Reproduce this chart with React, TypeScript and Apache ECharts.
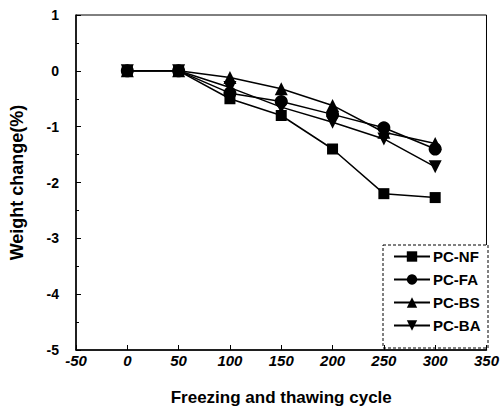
import React, { useEffect, useRef } from "react";
import * as echarts from "echarts";

const cycles = [0, 50, 100, 150, 200, 250, 300];
const seriesNames = ["PC-NF", "PC-FA", "PC-BS", "PC-BA"];
const pcNF = [0, 0, -0.5, -0.8, -1.4, -2.2, -2.27];
const pcFA = [0, 0, -0.4, -0.55, -0.78, -1.02, -1.4];
const pcBS = [0, 0, -0.12, -0.32, -0.62, -1.1, -1.3];
const pcBA = [0, 0, -0.3, -0.65, -0.92, -1.22, -1.72];
const symbols = ["rect", "circle", "triangle", "path://M0,0 L10,0 L5,10 Z"];

export default function App() {
  const ref = useRef<HTMLDivElement>(null);
  useEffect(() => {
    if (!ref.current) return;
    const chart = echarts.init(ref.current, undefined, { renderer: "svg" });
    const values = [pcNF, pcFA, pcBS, pcBA];
    const font = "Liberation Sans, Arial, sans-serif";
    chart.setOption({
      animation: false,
      backgroundColor: "#fff",
      grid: {
        left: 72,
        right: 14,
        top: 15,
        bottom: 58,
        show: true,
        borderColor: "#000",
        borderWidth: 1,
      },
      xAxis: {
        type: "value",
        min: -50,
        max: 350,
        interval: 50,
        name: "Freezing and thawing cycle",
        nameLocation: "middle",
        nameGap: 39,
        nameTextStyle: { fontFamily: font, fontWeight: "bold", fontSize: 17, color: "#000" },
        axisLine: { onZero: false, lineStyle: { color: "#000", width: 1.5 } },
        axisTick: { inside: true, length: 5, lineStyle: { color: "#000" } },
        axisLabel: {
          fontFamily: font,
          fontWeight: "bold",
          fontStyle: "italic",
          fontSize: 15,
          color: "#000",
          margin: 3,
        },
        splitLine: { show: false },
      },
      yAxis: {
        type: "value",
        min: -5,
        max: 1,
        interval: 1,
        name: "Weight change(%)",
        nameLocation: "middle",
        nameGap: 50,
        nameTextStyle: { fontFamily: font, fontWeight: "bold", fontSize: 18, color: "#000" },
        axisLine: { show: true, onZero: false, lineStyle: { color: "#000", width: 1.5 } },
        axisTick: { inside: true, length: 5, lineStyle: { color: "#000" } },
        minorTick: { show: true, splitNumber: 2, length: 3, lineStyle: { color: "#000" } },
        axisLabel: {
          fontFamily: font,
          fontWeight: "bold",
          fontSize: 14,
          color: "#000",
          margin: 17,
        },
        splitLine: { show: false },
      },
      legend: {
        show: true,
        orient: "vertical",
        left: 388,
        top: 244,
        itemWidth: 36,
        itemHeight: 13,
        itemGap: 8,
        textStyle: { fontFamily: font, fontWeight: "bold", fontSize: 15, color: "#000", padding: [0, 0, 0, -2] },
        data: seriesNames,
      },
      graphic: [
        {
          type: "rect",
          shape: { x: 383, y: 245, width: 105, height: 103 },
          style: { fill: "#fff", stroke: "#000", lineWidth: 1, lineDash: [3, 2] },
          z: 0,
        },
      ],
      series: seriesNames.map((name, i) => ({
        name,
        type: "line",
        data: cycles.map((c, j) => [c, values[i][j]]),
        symbol: symbols[i],
        symbolSize: i === 0 ? 11 : 13,
        itemStyle: { color: "#000" },
        lineStyle: { color: "#000", width: 1.5 },
        z: 3,
      })),
    });
    return () => chart.dispose();
  }, []);
  return (
    <div
      ref={ref}
      style={{ position: "fixed", left: 0, top: 0, width: 502, height: 411 }}
    />
  );
}
